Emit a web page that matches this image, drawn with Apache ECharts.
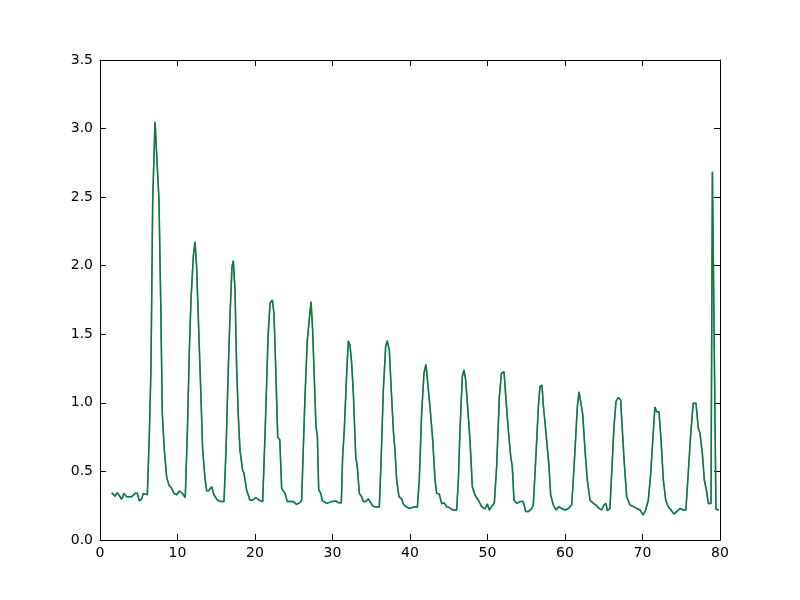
<!DOCTYPE html>
<html><head><meta charset="utf-8">
<script src="https://cdn.jsdelivr.net/npm/echarts@6/dist/echarts.min.js"></script>
<style>html,body{margin:0;padding:0;background:#fff}#c{width:800px;height:600px}</style>
</head><body><div id="c"></div>
<script>
var xs = [1.51,1.94,2.24,2.49,2.8,3.1,3.44,4.09,4.52,4.82,5.08,5.38,5.59,5.81,6.11,6.37,6.58,6.8,7.1,7.31,7.61,7.83,8.04,8.3,8.6,8.9,9.25,9.55,9.9,10.24,10.67,11.0,11.27,11.53,11.74,12.04,12.26,12.47,12.68,12.9,13.25,13.55,13.76,14.06,14.41,14.71,15.14,15.57,16.0,16.26,16.56,16.77,17.03,17.2,17.42,17.63,17.85,18.06,18.4,18.58,18.92,19.35,19.7,20.09,20.56,20.99,21.3,21.5,21.7,21.94,22.24,22.45,22.67,22.93,23.2,23.44,23.87,24.17,24.95,25.37,25.8,26.02,26.24,26.45,26.75,27.0,27.23,27.44,27.66,27.87,28.05,28.22,28.48,28.69,29.25,29.9,30.1,30.45,30.75,31.14,31.31,31.52,31.83,32.04,32.26,32.47,32.69,33.0,33.2,33.46,33.76,33.98,34.3,34.62,34.84,35.18,35.6,36.04,36.26,36.56,36.86,37.07,37.33,37.63,37.85,38.06,38.28,38.58,38.93,39.14,39.48,39.91,40.43,40.95,41.2,41.5,41.8,42.06,42.28,42.58,42.93,43.23,43.44,43.78,44.09,44.39,44.73,45.07,45.5,46.02,46.24,46.45,46.75,46.97,47.18,47.44,47.74,48.04,48.39,48.82,49.25,49.68,49.98,50.24,50.54,50.88,51.18,51.53,51.8,52.13,52.39,52.69,53.0,53.2,53.42,53.76,54.2,54.62,54.93,55.27,55.7,55.91,56.13,56.35,56.56,56.77,57.03,57.2,57.42,57.63,57.94,58.15,58.5,58.84,59.19,59.57,60.0,60.43,60.86,61.07,61.29,61.59,61.81,62.02,62.28,62.58,62.88,63.23,63.66,64.09,64.39,64.73,65.03,65.29,65.46,65.8,66.02,66.32,66.58,66.88,67.18,67.4,67.65,67.96,68.39,68.82,69.25,69.68,70.1,70.41,70.75,71.06,71.3,71.6,71.83,72.13,72.39,72.69,73.0,73.33,73.68,74.06,74.4,74.84,75.27,75.6,75.9,76.2,76.54,76.9,77.2,77.42,77.72,77.98,78.28,78.49,78.7,78.84,79.02,79.48,79.85];
var ysBlue = [0.345,0.32,0.345,0.34,0.297,0.34,0.316,0.316,0.34,0.34,0.284,0.30,0.34,0.33,0.33,0.778,1.26,2.48,3.05,3.05,2.48,1.75,0.92,0.656,0.46,0.40,0.377,0.34,0.33,0.357,0.337,0.31,0.778,1.385,1.75,2.066,2.175,1.99,1.63,1.26,0.656,0.45,0.36,0.36,0.389,0.328,0.292,0.28,0.28,0.656,1.26,1.63,1.99,2.036,1.82,1.26,0.90,0.656,0.51,0.486,0.365,0.29,0.29,0.31,0.29,0.28,0.778,1.14,1.5,1.726,1.75,1.65,1.26,0.75,0.73,0.377,0.34,0.28,0.28,0.26,0.272,0.29,0.68,1.045,1.458,1.604,1.738,1.53,1.167,0.826,0.753,0.365,0.34,0.287,0.267,0.28,0.272,0.285,0.272,0.272,0.61,0.80,1.216,1.45,1.42,1.29,1.07,0.607,0.535,0.34,0.316,0.28,0.28,0.30,0.28,0.248,0.24,0.24,0.56,1.094,1.41,1.453,1.385,1.045,0.80,0.656,0.4375,0.316,0.30,0.263,0.243,0.23,0.24,0.24,0.4375,0.92,1.216,1.28,1.28,0.97,0.73,0.4375,0.34,0.335,0.263,0.272,0.243,0.236,0.219,0.219,0.4375,0.80,1.19,1.24,1.167,0.97,0.73,0.389,0.328,0.29,0.243,0.226,0.263,0.219,0.243,0.27,0.535,1.045,1.216,1.227,1.02,0.80,0.607,0.535,0.29,0.267,0.28,0.28,0.207,0.207,0.23,0.255,0.486,0.73,0.97,1.118,1.13,0.984,0.97,0.73,0.535,0.328,0.255,0.219,0.243,0.23,0.219,0.23,0.255,0.4375,0.656,0.97,1.08,1.08,0.92,0.656,0.4375,0.29,0.267,0.25,0.23,0.219,0.255,0.267,0.214,0.23,0.486,0.826,1.01,1.04,1.02,0.80,0.56,0.316,0.255,0.243,0.23,0.219,0.182,0.219,0.29,0.486,0.705,0.97,0.935,0.935,0.73,0.4375,0.29,0.243,0.219,0.19,0.207,0.23,0.219,0.219,0.486,0.753,0.997,0.997,0.814,0.778,0.632,0.4375,0.352,0.267,0.255,0.267,2.686,0.224,0.219];
var ysGreen = ysBlue.slice();
var xTicks = [0,10,20,30,40,50,60,70,80];
var yTicks = [0,0.5,1.0,1.5,2.0,2.5,3.0,3.5];

function pairs(x, y){ return x.map(function(v,i){ return [v, y[i]]; }); }
var font = {fontFamily:'DejaVu Sans', fontSize:14, color:'#000'};
function axLine(){ return {show:true, onZero:false, lineStyle:{color:'#000', width:1}}; }
function tick(){ return {show:true, inside:true, length:6, lineStyle:{color:'#000'}}; }
var chart = echarts.init(document.getElementById('c'));
chart.setOption({
  animation:false,
  backgroundColor:'#fff',
  grid:{left:100, right:80, top:60, bottom:60},
  xAxis:[
    {type:'value', min:0, max:80, interval:10, position:'bottom', axisLine:axLine(), axisTick:tick(),
     axisLabel:Object.assign({margin:6, formatter:function(v){return String(v);}}, font), splitLine:{show:false}},
    {type:'value', min:0, max:80, interval:10, position:'top', axisLine:axLine(), axisTick:tick(),
     axisLabel:{show:false}, splitLine:{show:false}}
  ],
  yAxis:[
    {type:'value', min:0, max:3.5, interval:0.5, position:'left', axisLine:axLine(), axisTick:tick(),
     axisLabel:Object.assign({margin:7, formatter:function(v){return v.toFixed(1);}}, font), splitLine:{show:false}},
    {type:'value', min:0, max:3.5, interval:0.5, position:'right', axisLine:axLine(), axisTick:tick(),
     axisLabel:{show:false}, splitLine:{show:false}}
  ],
  series:[
    {type:'line', data:pairs(xs, ysBlue), showSymbol:false, symbol:'none', lineStyle:{color:'#2a6fb0', width:1.5}, z:2},
    {type:'line', data:pairs(xs, ysGreen), showSymbol:false, symbol:'none', lineStyle:{color:'#008000', width:1.5, opacity:0.7}, z:3}
  ]
});
</script></body></html>
